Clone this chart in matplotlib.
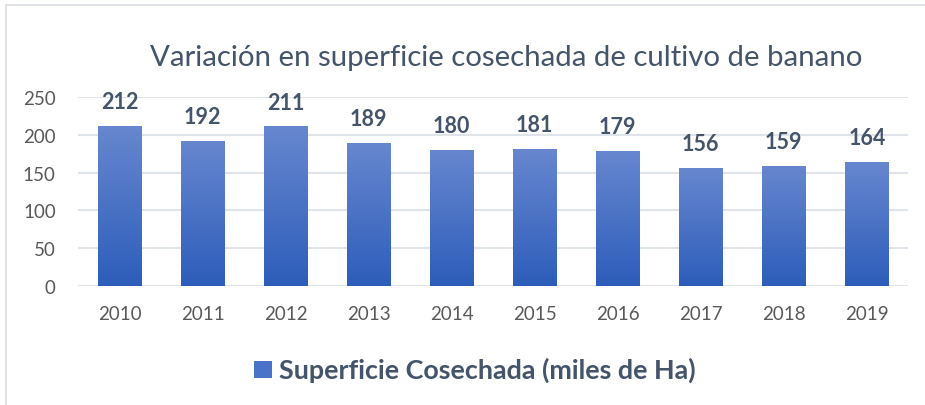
import matplotlib
matplotlib.use("Agg")
import matplotlib.pyplot as plt
import numpy as np
from matplotlib.patches import Rectangle
from matplotlib.colors import LinearSegmentedColormap

years = ["2010", "2011", "2012", "2013", "2014", "2015", "2016", "2017", "2018", "2019"]
values = [212, 192, 211, 189, 180, 181, 179, 156, 159, 164]
title = "Variación en superficie cosechada de cultivo de banano"
legend_label = "Superficie Cosechada (miles de Ha)"
yticks = [0, 50, 100, 150, 200, 250]

plt.rcParams['font.family'] = ['Lato', 'DejaVu Sans']

fig = plt.figure(figsize=(9.25, 4.06), dpi=100)
ax = fig.add_axes([0.0843, 0.2931, 0.8977, 0.4655])

top_c = "#6787cf"
bot_c = "#2d5dba"
cmap = LinearSegmentedColormap.from_list("g", [bot_c, top_c])
grad = np.linspace(0, 1, 256).reshape(-1, 1)

x = np.arange(len(years))
bw = 0.52
bars = ax.bar(x, values, width=bw, color=bot_c, zorder=2)
for b in bars:
    bx, by = b.get_x(), b.get_y()
    w, h = b.get_width(), b.get_height()
    im = ax.imshow(grad, extent=[bx, bx + w, by, by + h], origin="lower",
                   cmap=cmap, aspect="auto", zorder=3)
    im.set_clip_path(b)
    ax.annotate(f"{int(h)}", (bx + w / 2, h), xytext=(0, 10), textcoords="offset points",
                ha="center", va="bottom", fontsize=15.5, fontweight="bold", color="#44546a")

ax.set_xlim(-0.5, len(years) - 0.5)
ax.set_ylim(0, 250)
ax.set_yticks(yticks)
ax.set_xticks(x)
ax.set_xticklabels(years)
ax.tick_params(axis="both", length=0, labelsize=13.5, colors="#595959")
ax.tick_params(axis="y", pad=16)
ax.tick_params(axis="x", pad=14)
ax.grid(axis="y", color="#dfe3ea", linewidth=1.5, zorder=0)
ax.set_axisbelow(True)
for s in ax.spines.values():
    s.set_visible(False)

fig.text(0.547, 0.857, title, ha="center", va="center", fontsize=21.2, color="#44546a")

# legend
fig.patches.append(Rectangle((254 / 925, 1 - 379 / 406), 18 / 925, 17 / 406,
                             transform=fig.transFigure, facecolor="#4a72c8", edgecolor="none"))
fig.text(279 / 925, 1 - 370 / 406, legend_label, ha="left", va="center", fontsize=19.4,
         fontweight="bold", color="#44546a")

# frame
fig.patches.append(Rectangle((6 / 925, -0.01), 1.2, 1 - 6 / 406 + 0.01, transform=fig.transFigure,
                             facecolor="none", edgecolor="#d9dde3", linewidth=1.2))

fig.savefig("out.png", dpi=100)
